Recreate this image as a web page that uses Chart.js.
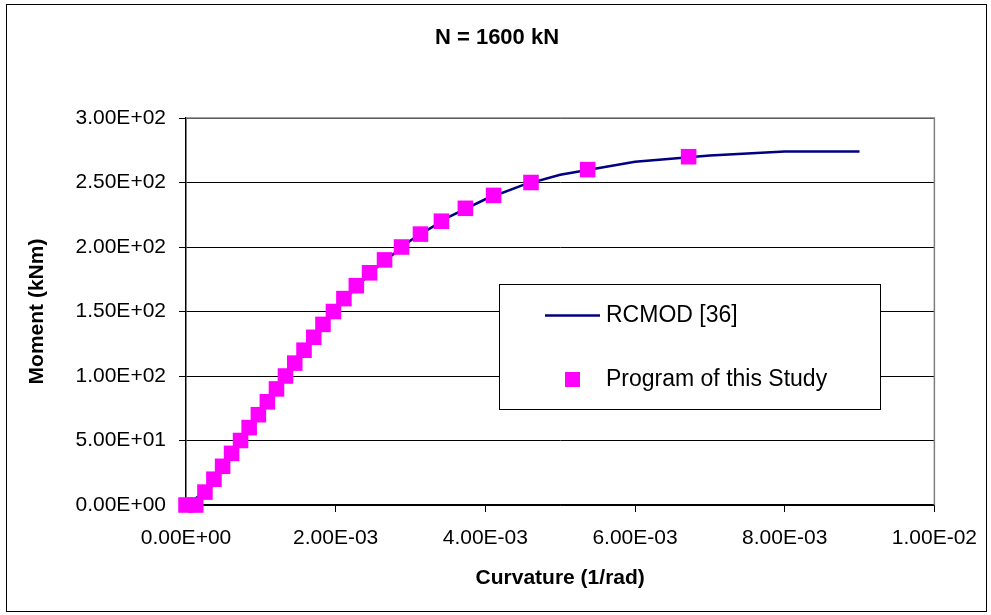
<!DOCTYPE html>
<html lang="en">
<head>
<meta charset="UTF-8">
<title>N = 1600 kN</title>
<script src="https://cdn.jsdelivr.net/npm/chart.js"></script>
<style>
  html, body { margin: 0; padding: 0; background: #fff; }
  #contenedor { width: 991px; height: 615px; position: relative; }
</style>
</head>
<body>
<div id="contenedor"><canvas id="grafico" width="991" height="615"></canvas></div>
<script>
// RCMOD [36] curve (curvature in 1/rad, moment in kNm)
const curvatureRcmod = [0, 0.00025, 0.0005, 0.001, 0.0015, 0.002, 0.0025, 0.003, 0.0035, 0.004, 0.0045, 0.005, 0.006, 0.007, 0.008, 0.009];
const momentRcmod    = [0, 10, 31, 73, 114, 152, 182, 205, 223, 237, 248, 256, 266, 271, 274, 274];

// Program of this Study (markers)
const curvatureStudy = [0, 0.00013, 0.000253, 0.000373, 0.000489, 0.000609, 0.000729, 0.000844, 0.000967, 0.001087,
                        0.001209, 0.001329, 0.001453, 0.001577, 0.001707, 0.00183, 0.00197, 0.00211, 0.002276, 0.002453,
                        0.002653, 0.00288, 0.003133, 0.003413, 0.003733, 0.00411, 0.00461, 0.005367, 0.006716];
const momentStudy    = [0, 0, 10, 20, 30, 40, 50, 60, 70, 80,
                        90, 100, 110, 120, 130, 140, 150, 160, 170, 180,
                        190, 200, 210, 220, 230, 240, 250, 260, 270];

const xTickValues = [0, 0.002, 0.004, 0.006, 0.008, 0.01];
const xTickLabels = ['0.00E+00', '2.00E-03', '4.00E-03', '6.00E-03', '8.00E-03', '1.00E-02'];
const yTickValues = [0, 50, 100, 150, 200, 250, 300];
const yTickLabels = ['0.00E+00', '5.00E+01', '1.00E+02', '1.50E+02', '2.00E+02', '2.50E+02', '3.00E+02'];

const fuente = '"Liberation Sans", Arial, sans-serif';

function puntos(xs, ys) {
    return xs.map((x, i) => ({ x: x, y: ys[i] }));
}

// frame, title, plot border and legend box (Excel style)
const marco = {
    id: 'marco',
    afterDraw(chart) {
        const ctx = chart.ctx;
        const a = chart.chartArea;
        ctx.save();
        // outer border
        ctx.strokeStyle = '#000';
        ctx.lineWidth = 1;
        ctx.strokeRect(6.5, 4.5, 980, 607);
        // plot area top / right border
        ctx.strokeStyle = '#808080';
        ctx.lineWidth = 1.5;
        ctx.beginPath();
        ctx.moveTo(a.left, a.top);
        ctx.lineTo(a.right, a.top);
        ctx.lineTo(a.right, a.bottom);
        ctx.stroke();
        // title
        ctx.fillStyle = '#000';
        ctx.font = 'bold 22px ' + fuente;
        ctx.textAlign = 'center';
        ctx.textBaseline = 'middle';
        ctx.fillText('N = 1600 kN', 497, 38);
        // legend
        ctx.fillStyle = '#fff';
        ctx.fillRect(499.5, 284.5, 381, 125);
        ctx.strokeStyle = '#000';
        ctx.lineWidth = 1;
        ctx.strokeRect(499.5, 284.5, 381, 125);
        const ds = chart.data.datasets;
        ctx.strokeStyle = ds[0].borderColor;
        ctx.lineWidth = ds[0].borderWidth;
        ctx.beginPath();
        ctx.moveTo(545, 315.5);
        ctx.lineTo(600, 315.5);
        ctx.stroke();
        ctx.fillStyle = ds[1].backgroundColor;
        ctx.fillRect(565, 372, 15, 15);
        ctx.fillStyle = '#000';
        ctx.font = '23px ' + fuente;
        ctx.textAlign = 'left';
        ctx.fillText(ds[0].label, 606, 316);
        ctx.fillText(ds[1].label, 606, 380);
        ctx.restore();
    }
};

const ctx = document.getElementById('grafico').getContext('2d');
const chart = new Chart(ctx, {
    type: 'scatter',
    data: {
        datasets: [
            {
                label: 'RCMOD [36]',
                data: puntos(curvatureRcmod, momentRcmod),
                showLine: true,
                borderColor: '#000080',
                backgroundColor: '#000080',
                borderWidth: 2.5,
                pointRadius: 0,
                tension: 0,
                order: 1
            },
            {
                label: 'Program of this Study',
                data: puntos(curvatureStudy, momentStudy),
                showLine: false,
                pointStyle: 'rect',
                pointRadius: 11,
                borderWidth: 0,
                backgroundColor: '#FF00FF',
                borderColor: '#FF00FF',
                clip: false,
                order: 0
            }
        ]
    },
    options: {
        responsive: false,
        animation: false,
        devicePixelRatio: 1,
        layout: { padding: { left: 0, right: 55, top: 118, bottom: 0 } },
        plugins: {
            legend: { display: false },
            title: { display: false },
            tooltip: { enabled: false }
        },
        scales: {
            x: {
                type: 'linear',
                min: 0,
                max: 0.01,
                afterFit: s => { s.height = 110; },
                afterBuildTicks: s => { s.ticks = xTickValues.map(v => ({ value: v })); },
                ticks: {
                    color: '#000',
                    font: { family: fuente, size: 21 },
                    padding: 14,
                    maxRotation: 0,
                    callback: (v, i) => xTickLabels[i]
                },
                grid: { drawOnChartArea: false, drawTicks: true, tickLength: 7, tickColor: '#000' },
                border: { color: '#000', width: 1.5 },
                title: {
                    display: true,
                    text: 'Curvature (1/rad)',
                    color: '#000',
                    font: { family: fuente, size: 21, weight: 'bold' },
                    padding: { top: 0, bottom: 24 }
                }
            },
            y: {
                type: 'linear',
                min: 0,
                max: 300,
                afterFit: s => { s.width = 186; },
                afterBuildTicks: s => { s.ticks = yTickValues.map(v => ({ value: v })); },
                ticks: {
                    color: '#000',
                    font: { family: fuente, size: 21 },
                    padding: 13,
                    callback: (v, i) => yTickLabels[i]
                },
                grid: { color: '#000', lineWidth: 1, tickLength: 7, tickColor: '#000' },
                border: { color: '#000', width: 1.5 },
                title: {
                    display: true,
                    text: 'Moment (kNm)',
                    color: '#000',
                    font: { family: fuente, size: 21, weight: 'bold' },
                    padding: { top: 25, bottom: 0 }
                }
            }
        }
    },
    plugins: [marco]
});
</script>
</body>
</html>
